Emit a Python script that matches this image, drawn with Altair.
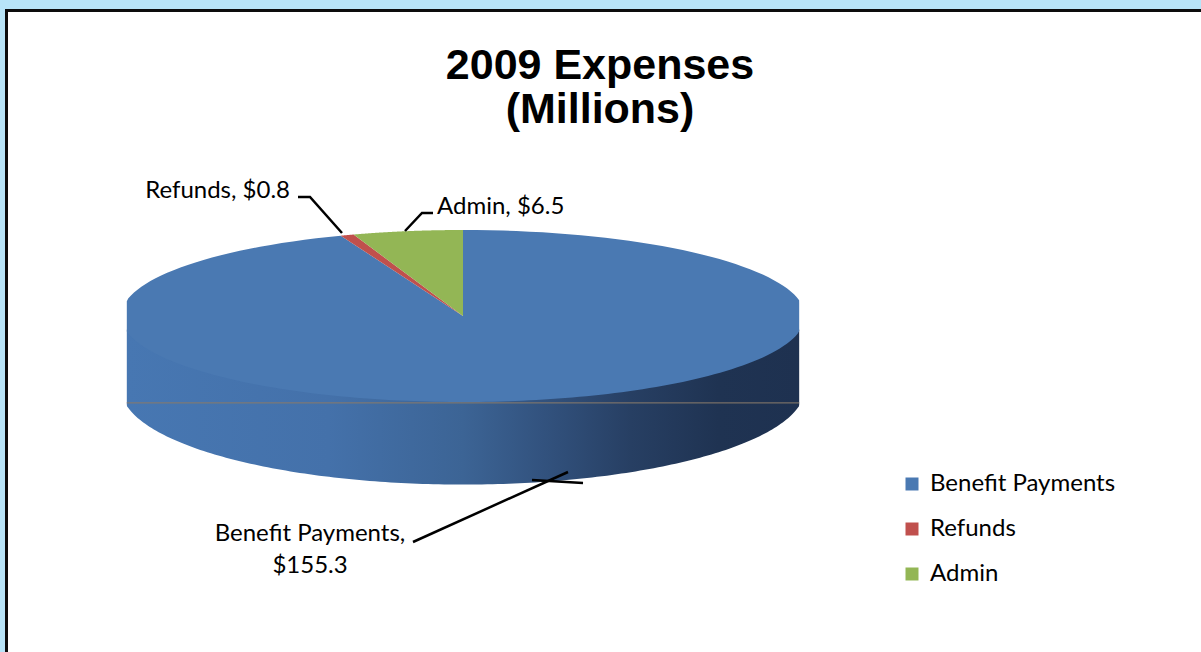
import altair as alt
import pandas as pd

# ---- chart values ----
categories = ["Benefit Payments", "Refunds", "Admin"]
amounts = [155.3, 0.8, 6.5]
slice_colors = ["#4a79b2", "#c0504d", "#93b655"]

# ---- layout (pixels inside the white panel) ----
W, H = 1196, 643
X_RANGE = [116, 800]      # left/right extent of the pie ellipse
Y_RANGE = [221, 393]      # top/bottom extent of the pie's top face
CLIP = 0.983              # plot area clips the ellipse at the sides
N = 200                   # points along each arc
WARP = 0.3                # perspective-like angular stretch toward the back
D0, D1 = 0.84, 0.12       # wall depth (in ellipse radii), deeper at the front
TUCK = 0.02               # wall's top edge sits just under the top face
LABEL_FONT = "Lato"
LABEL_SIZE = 24

xs = alt.Scale(domain=[-1, 1], range=X_RANGE)
ys = alt.Scale(domain=[-1, 1], range=Y_RANGE)

slices = pd.DataFrame({"category": categories, "value": amounts,
                       "order": list(range(len(categories)))})

base = (
    alt.Chart(slices)
    .transform_window(cum="sum(value)", sort=[alt.SortField("order")], frame=[None, 0])
    .transform_joinaggregate(total="sum(value)")
    .transform_calculate(a0="2*PI*(datum.cum - datum.value)/datum.total")
    .transform_calculate(a1="2*PI*datum.cum/datum.total")
)

# side wall of the pie (front half only)
wall_fill = alt.Gradient(
    gradient="linear", x1=0, x2=1, y1=0, y2=0,
    stops=[
        alt.GradientStop(color="#4777b2", offset=0),
        alt.GradientStop(color="#4471aa", offset=0.3),
        alt.GradientStop(color="#3c6495", offset=0.5),
        alt.GradientStop(color="#32527e", offset=0.62),
        alt.GradientStop(color="#273f63", offset=0.75),
        alt.GradientStop(color="#1f3352", offset=0.88),
        alt.GradientStop(color="#1e3150", offset=1),
    ],
)

side = (
    base
    .transform_calculate(ts=f"max(datum.a0 + {WARP}*sin(datum.a0), PI/2)")
    .transform_calculate(te=f"min(datum.a1 + {WARP}*sin(datum.a1), 3*PI/2)")
    .transform_filter("datum.te > datum.ts")
    .transform_calculate(step=f"sequence(0, {2 * N})")
    .transform_flatten(["step"])
    .transform_calculate(
        t=f"datum.step < {N} ? datum.ts + (datum.te - datum.ts) * datum.step / {N - 1}"
          f" : datum.te - (datum.te - datum.ts) * (datum.step - {N}) / {N - 1}"
    )
    .transform_calculate(ux=f"clamp(sin(datum.t), -{CLIP}, {CLIP})")
    .transform_calculate(
        uy=f"-cos(datum.t) + (datum.step < {N} ? -{TUCK} : {D0} + {D1} * (-cos(datum.t)))"
    )
    .mark_line(filled=True, interpolate="linear-closed", fill=wall_fill)
    .encode(
        x=alt.X("ux:Q", scale=xs, axis=None),
        y=alt.Y("uy:Q", scale=ys, axis=None),
        order=alt.Order("step:Q"),
        detail="category:N",
    )
)

# faint seam across the wall
seam = (
    alt.Chart(slices)
    .mark_rule(color="#8a7c6c", strokeWidth=1, opacity=0.45)
    .encode(
        x=alt.X(datum=-CLIP, scale=xs, axis=None),
        x2=alt.X2(datum=CLIP),
        y=alt.Y(datum=1.01, scale=ys, axis=None),
    )
)

# top faces of the slices
faces = (
    base
    .transform_calculate(step=f"sequence(0, {N + 1})")
    .transform_flatten(["step"])
    .transform_calculate(a=f"datum.a0 + (datum.a1 - datum.a0) * (datum.step - 1) / {N - 1}")
    .transform_calculate(t=f"datum.a + {WARP} * sin(datum.a)")
    .transform_calculate(ux=f"datum.step == 0 ? 0 : clamp(sin(datum.t), -{CLIP}, {CLIP})")
    .transform_calculate(uy="datum.step == 0 ? 0 : -cos(datum.t)")
    .mark_line(filled=True, interpolate="linear-closed")
    .encode(
        x=alt.X("ux:Q", scale=xs, axis=None),
        y=alt.Y("uy:Q", scale=ys, axis=None),
        order=alt.Order("step:Q"),
        detail="category:N",
        color=alt.Color(
            "category:N",
            scale=alt.Scale(domain=categories, range=slice_colors),
            legend=alt.Legend(
                orient="none", legendX=895, legendY=463, title=None,
                symbolType="square", symbolSize=169, symbolStrokeWidth=0,
                labelFont=LABEL_FONT, labelFontSize=LABEL_SIZE, labelColor="black",
                labelOffset=6, labelLimit=400, rowPadding=21, padding=0,
            ),
        ),
    )
)

# data labels
label_pos = {
    "Benefit Payments": (305, 532, "center"),
    "Refunds": (285, 189, "right"),
    "Admin": (432, 205, "left"),
}
label_rows = []
for cat, val in zip(categories, amounts):
    px, py, al = label_pos[cat]
    sep = ",\n" if cat == "Benefit Payments" else ", "
    label_rows.append({"txt": f"{cat}{sep}${val:.1f}", "px": px, "py": py, "al": al})
labels_df = pd.DataFrame(label_rows)

label_layers = []
for al in ["left", "center", "right"]:
    label_layers.append(
        alt.Chart(labels_df[labels_df["al"] == al])
        .mark_text(font=LABEL_FONT, fontSize=LABEL_SIZE, color="black", align=al,
                   baseline="alphabetic", lineBreak="\n", lineHeight=32)
        .encode(x=alt.X("px:Q", scale=None, axis=None),
                y=alt.Y("py:Q", scale=None, axis=None), text="txt:N")
    )

# leader lines
leaders = pd.DataFrame([
    {"k": "r", "i": 0, "px": 293, "py": 188}, {"k": "r", "i": 1, "px": 305, "py": 188},
    {"k": "r", "i": 2, "px": 337, "py": 224},
    {"k": "a", "i": 0, "px": 428, "py": 204}, {"k": "a", "i": 1, "px": 417, "py": 204},
    {"k": "a", "i": 2, "px": 400, "py": 222},
    {"k": "b", "i": 0, "px": 408, "py": 533}, {"k": "b", "i": 1, "px": 563, "py": 463},
    {"k": "c", "i": 0, "px": 527, "py": 471}, {"k": "c", "i": 1, "px": 578, "py": 474},
])
leader_lines = (
    alt.Chart(leaders)
    .mark_line(color="black", strokeWidth=2.5)
    .encode(x=alt.X("px:Q", scale=None, axis=None),
            y=alt.Y("py:Q", scale=None, axis=None),
            order="i:Q", detail="k:N")
)

# chart title
title_df = pd.DataFrame({"txt": ["2009 Expenses", "(Millions)"], "px": [595, 595], "py": [70, 114]})
title = (
    alt.Chart(title_df)
    .mark_text(font="Liberation Sans", fontSize=43, fontWeight="bold", color="black",
               align="center", baseline="alphabetic")
    .encode(x=alt.X("px:Q", scale=None, axis=None),
            y=alt.Y("py:Q", scale=None, axis=None), text="txt:N")
)

# panel border (left and top edges)
border_left = alt.Chart(slices).mark_rule(color="#0d0d0d", strokeWidth=3).encode(
    x=alt.value(1.5), y=alt.value(0), y2=alt.value(H))
border_top = alt.Chart(slices).mark_rule(color="#0d0d0d", strokeWidth=3).encode(
    x=alt.value(0), x2=alt.value(W), y=alt.value(1.5))

chart = (
    alt.layer(side, seam, faces, leader_lines, *label_layers, title, border_left, border_top)
    .resolve_scale(x="independent", y="independent")
    .properties(width=W, height=H, background="#b8e4f8",
                padding={"left": 5, "top": 9, "right": 0, "bottom": 0},
                autosize=alt.AutoSizeParams(type="none"))
    .configure_view(fill="white", stroke="transparent")
    .configure_axis(disable=True)
)

chart.save("out.html", embed_options={"renderer": "svg", "actions": False})
